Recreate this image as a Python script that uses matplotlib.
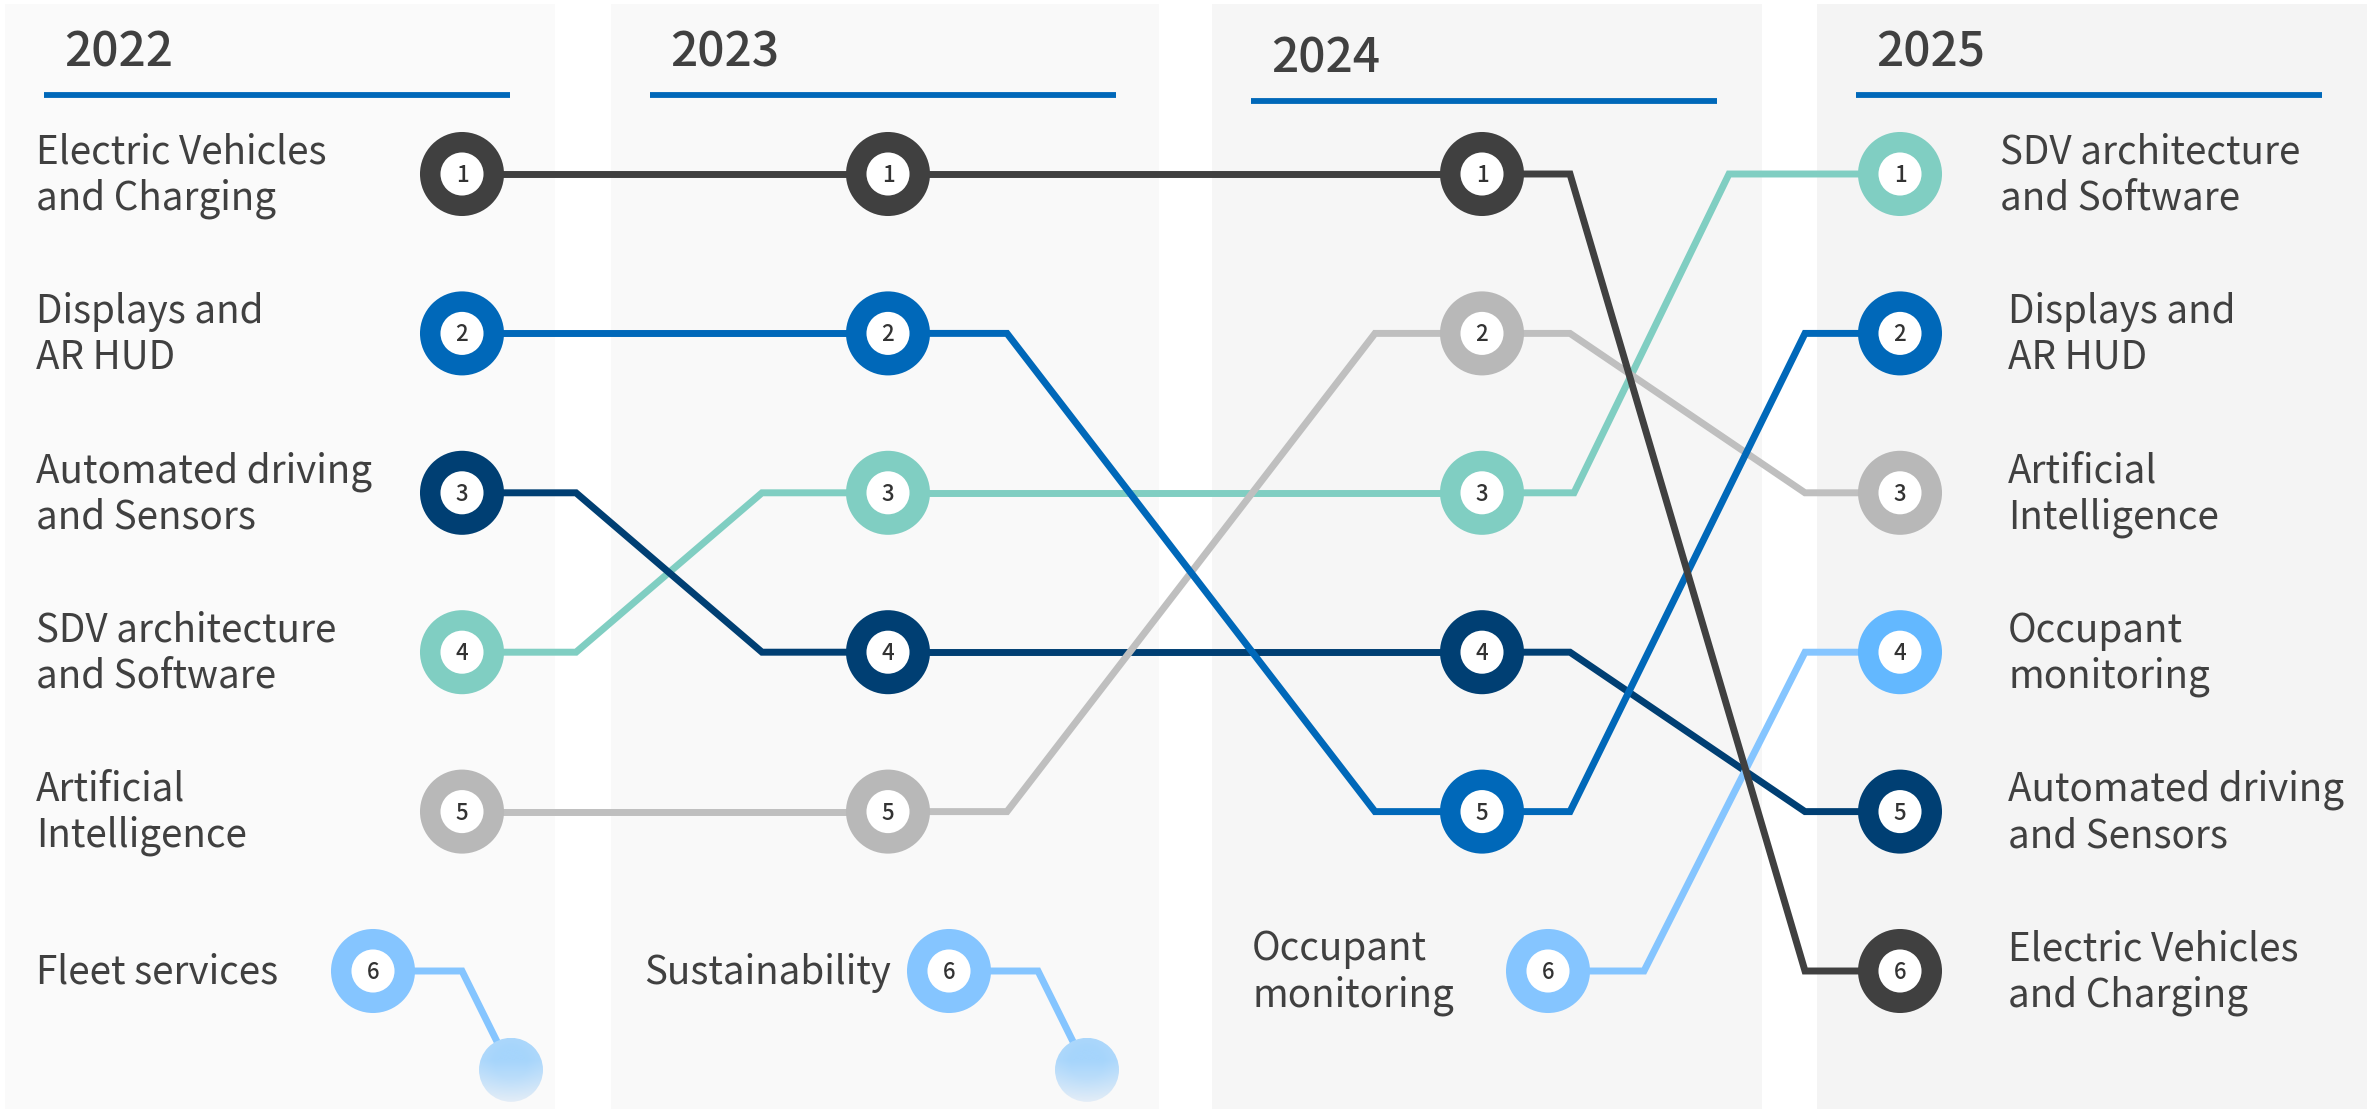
import numpy as np
import matplotlib
matplotlib.use("Agg")
import matplotlib.pyplot as plt
from matplotlib.patches import Rectangle, Ellipse
from matplotlib.colors import to_rgb

plt.rcParams['font.family'] = ['Noto Sans CJK JP', 'DejaVu Sans']

# ---------------- data ----------------
years = ['2022', '2023', '2024', '2025']
topics = ['Electric Vehicles\nand Charging', 'Displays and\nAR HUD',
          'Automated driving\nand Sensors', 'SDV architecture\nand Software',
          'Artificial\nIntelligence', 'Occupant\nmonitoring',
          'Fleet services', 'Sustainability']
rank_ev = [1, 1, 1, 6]
rank_displays = [2, 2, 5, 2]
rank_automated = [3, 4, 4, 5]
rank_sdv = [4, 3, 3, 1]
rank_ai = [5, 5, 2, 3]
rank_occupant = [None, None, 6, 4]
rank_fleet = [6, None, None, None]
rank_sustain = [None, 6, None, None]
ranks = [rank_ev, rank_displays, rank_automated, rank_sdv, rank_ai,
         rank_occupant, rank_fleet, rank_sustain]

# ---------------- styles / layout ----------------
line_colors = ['#404040', '#0068b9', '#003f73', '#80cec2', '#bfbfbf',
               '#85c5ff', '#85c5ff', '#85c5ff']
ring_colors = ['#404040', '#0068b9', '#003f73', '#80cec2', '#b8b8b8',
               '#85c5ff', '#85c5ff', '#85c5ff']
line_z = [2.6, 2.5, 2.2, 2.1, 2.3, 2.4, 2.4, 2.4]
TXT = '#404040'

W, H = 2376, 1109
ROW1_Y, ROW_STEP = 174.0, 159.4


def px2r(py):
    return 1 + (py - ROW1_Y) / ROW_STEP


panel_left = [5, 611, 1212, 1817]
panel_width = [550, 548, 550, 550]
panel_color = ['#fafafa', '#f9f9f9', '#f6f6f6', '#f4f4f4']
header_dy = [0, 0, 6, 0]
col_x = [462, 888, 1482, 1900]          # circle centres, ranks 1-5
row6_x = [373, 949, 1548, 1900]         # circle centres, rank 6
gap_bends = [(576, 762), (1007, 1375), (1570, 1805)]
bend_override = {(3, 2): (1574, 1729)}
label_x = [36, 644, 1252, 2008]
label_nudge = {(3, 3): -8}

fig = plt.figure(figsize=(W / 100, H / 100), dpi=100)
ax = fig.add_axes([0, 0, 1, 1])
ax.set_xlim(0, W)
ax.set_ylim(px2r(H), px2r(0))
ax.axis('off')

# panels + headers
for i, yr in enumerate(years):
    ax.add_patch(Rectangle((panel_left[i], px2r(4)), panel_width[i],
                           px2r(H) - px2r(4), facecolor=panel_color[i],
                           edgecolor='none', zorder=0))
    ax.plot([panel_left[i] + 39, panel_left[i] + 505],
            [px2r(95 + header_dy[i])] * 2, color='#0068b9', lw=4.2,
            solid_capstyle='butt', zorder=1)
    ax.text(panel_left[i] + 59, px2r(66 + header_dy[i]), yr, fontsize=34.5,
            color=TXT, ha='left', va='baseline', zorder=3, fontweight='medium')


def cx(col, r):
    return row6_x[col] if r == 6 else col_x[col]


# connecting lines
for k, rk in enumerate(ranks):
    for i in range(len(years) - 1):
        r0, r1 = rk[i], rk[i + 1]
        if r0 is None:
            continue
        x0 = cx(i, r0)
        if r1 is None:
            # dropped out: short tail ending in a faded bubble
            xb = x0 + 89
            ex, ey = x0 + 138, r0 + 0.62
            ax.plot([x0, xb, ex], [r0, r0, ey], color=line_colors[k], lw=5,
                    solid_joinstyle='miter', zorder=line_z[k])
            rad = 32
            top = np.array(to_rgb('#a6d5fc'))
            bot = np.array(to_rgb('#e3edf7'))
            yy, xx = np.mgrid[0:1:200j, 0:1:200j]
            t = np.clip((yy - 0.35) / 0.65, 0, 1) * 0.8 + \
                np.clip(np.hypot(xx - 0.5, yy - 0.4) - 0.25, 0, 1) * 0.6
            t = np.clip(t, 0, 1)[..., None]
            img = top * (1 - t) + bot * t
            im = ax.imshow(img, extent=(ex - rad, ex + rad,
                                        ey + rad / ROW_STEP, ey - rad / ROW_STEP),
                           origin='upper', aspect='auto', zorder=4,
                           interpolation='bilinear')
            clip = Ellipse((ex, ey), 2 * rad, 2 * rad / ROW_STEP,
                           transform=ax.transData)
            im.set_clip_path(clip)
            continue
        x1 = cx(i + 1, r1)
        if r0 == r1:
            xs, ys = [x0, x1], [r0, r1]
        else:
            b0, b1 = bend_override.get((k, i), gap_bends[i])
            if r0 == 6 and row6_x[i] != col_x[i]:
                b0 = x0 + 96
            xs, ys = [x0, b0, b1, x1], [r0, r0, r1, r1]
        ax.plot(xs, ys, color=line_colors[k], lw=5, solid_joinstyle='miter',
                solid_capstyle='butt', zorder=line_z[k])

# rings, numbers and labels
for k, rk in enumerate(ranks):
    for i, r in enumerate(rk):
        if r is None:
            continue
        x = cx(i, r)
        rc = ring_colors[k]
        if i == len(years) - 1 and k == 5:
            rc = '#63b8ff'
        ax.scatter([x], [r], s=60.5 ** 2, color=rc, edgecolors='none', zorder=5)
        ax.scatter([x], [r], s=31 ** 2, color='white', edgecolors='none', zorder=6)
        ax.text(x, r + 0.01, str(r), fontsize=16, fontweight='medium',
                color='#333333', ha='center', va='center', zorder=7)
        new_entry = (i == 0) or (i == len(years) - 1) or (rk[i - 1] is None)
        if new_entry:
            ax.text(label_x[i] + label_nudge.get((k, i), 0), r + 0.01,
                    topics[k], fontsize=27.8, color=TXT,
                    ha='left', va='center', linespacing=1.19, zorder=7)

fig.savefig('out.png', dpi=100, facecolor='white')
